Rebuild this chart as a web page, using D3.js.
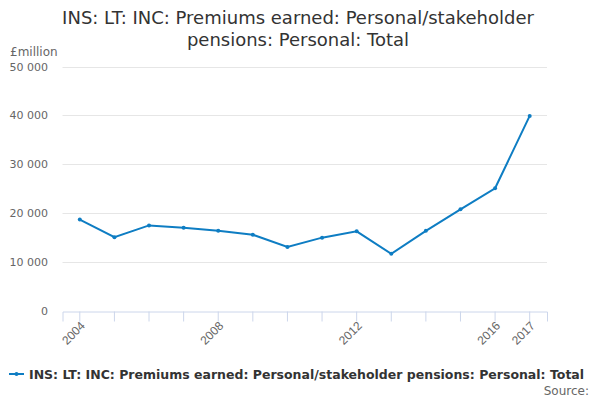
<!DOCTYPE html>
<html>
<head>
<meta charset="utf-8">
<script src="https://cdn.jsdelivr.net/npm/d3@7"></script>
<style>
  body { margin: 0; background: #fff; }
  svg { font-family: "DejaVu Sans", sans-serif; }
</style>
</head>
<body>
<div id="chart"></div>
<script>
// years and values (£million)
var years = ["2004", "2005", "2006", "2007", "2008", "2009", "2010", "2011", "2012", "2013", "2014", "2015", "2016", "2017"];
var values = [18700, 15100, 17500, 17000, 16400, 15600, 13100, 15000, 16300, 11700, 16400, 20800, 25100, 39900];
var yTicks = [0, 10000, 20000, 30000, 40000, 50000];
var xLabels = ["2004", "2008", "2012", "2016", "2017"];
var seriesName = "INS: LT: INC: Premiums earned: Personal/stakeholder pensions: Personal: Total";

var width = 600, height = 400;
var margin = { top: 66.5, right: 53, bottom: 89, left: 62.5 };

var svg = d3.select("#chart").append("svg")
    .attr("width", width)
    .attr("height", height);

var x = d3.scaleBand()
    .domain(years)
    .range([margin.left, width - margin.right]);

var y = d3.scaleLinear()
    .domain([0, 50000])
    .range([height - margin.bottom, margin.top]);

var fmt = function (d) { return d3.format(",")(d).replace(/,/g, " "); };

// title
var title = svg.append("text")
    .attr("text-anchor", "middle")
    .attr("fill", "#333")
    .style("font-size", "18px");
title.append("tspan").attr("x", 298).attr("y", 24).text("INS: LT: INC: Premiums earned: Personal/stakeholder");
title.append("tspan").attr("x", 298).attr("y", 46).text("pensions: Personal: Total");

// unit label
svg.append("text")
    .attr("x", 10)
    .attr("y", 56)
    .attr("fill", "#666")
    .style("font-size", "12px")
    .text("£million");

// gridlines
svg.append("g")
    .selectAll("line")
    .data(yTicks.filter(function (d) { return d > 0; }))
    .enter()
    .append("line")
    .attr("x1", margin.left)
    .attr("x2", width - margin.right)
    .attr("y1", function (d) { return Math.round(y(d)) + 0.5; })
    .attr("y2", function (d) { return Math.round(y(d)) + 0.5; })
    .attr("stroke", "#e6e6e6");

// y labels
svg.append("g")
    .selectAll("text")
    .data(yTicks)
    .enter()
    .append("text")
    .attr("x", 48)
    .attr("y", function (d) { return y(d) + 4; })
    .attr("text-anchor", "end")
    .attr("fill", "#666")
    .style("font-size", "11px")
    .text(fmt);

// x axis
var xAxis = d3.axisBottom(x)
    .tickSize(10)
    .tickFormat(function (d) { return xLabels.indexOf(d) >= 0 ? d : ""; });

var gx = svg.append("g")
    .attr("transform", "translate(0," + (Math.round(y(0)) + 0.5) + ")")
    .call(xAxis);

gx.select(".domain").attr("stroke", "#ccd6eb");
gx.selectAll(".tick line").attr("stroke", "#ccd6eb");
gx.selectAll(".tick text")
    .attr("fill", "#666")
    .style("font-size", "12px")
    .attr("text-anchor", "end")
    .attr("x", 0)
    .attr("y", 0)
    .attr("dy", 0)
    .attr("transform", "translate(6,15) rotate(-45)");

// line
var line = d3.line()
    .x(function (d, i) { return x(years[i]) + x.bandwidth() / 2; })
    .y(function (d) { return y(d); });

svg.append("path")
    .datum(values)
    .attr("fill", "none")
    .attr("stroke", "#0e7dc3")
    .attr("stroke-width", 2)
    .attr("d", line);

svg.append("g")
    .selectAll("circle")
    .data(values)
    .enter()
    .append("circle")
    .attr("cx", function (d, i) { return x(years[i]) + x.bandwidth() / 2; })
    .attr("cy", function (d) { return y(d); })
    .attr("r", 2)
    .attr("fill", "#0e7dc3");

// legend
var legend = svg.append("g").attr("transform", "translate(0,374)");
legend.append("line")
    .attr("x1", 9).attr("x2", 24)
    .attr("y1", 0).attr("y2", 0)
    .attr("stroke", "#0e7dc3")
    .attr("stroke-width", 2);
legend.append("circle")
    .attr("cx", 16.5).attr("cy", 0).attr("r", 2)
    .attr("fill", "#0e7dc3");
legend.append("text")
    .attr("x", 29)
    .attr("y", 4.5)
    .attr("fill", "#333")
    .style("font-size", "12.5px")
    .style("font-weight", "bold")
    .text(seriesName);

// source
svg.append("text")
    .attr("x", 589)
    .attr("y", 395)
    .attr("text-anchor", "end")
    .attr("fill", "#666")
    .style("font-size", "12px")
    .text("Source:");
</script>
</body>
</html>
